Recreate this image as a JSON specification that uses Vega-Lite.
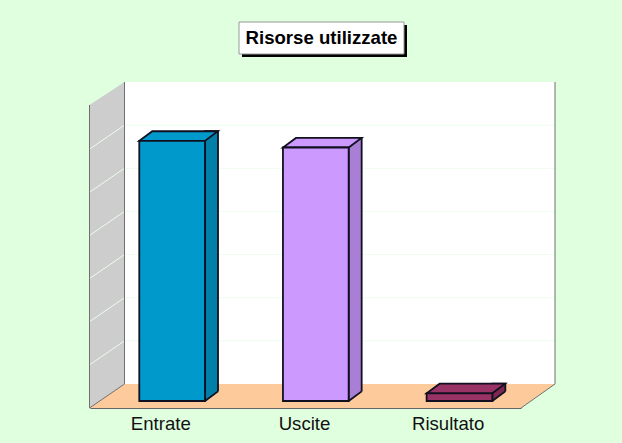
{"$schema":"https://vega.github.io/schema/vega-lite/v6.json","width":431,"height":326,"autosize":{"type":"none"},"padding":{"left":90,"top":82,"right":101,"bottom":35},"background":"#DFFFDF","view":{"stroke":null},"config":{"font":"Liberation Sans"},"datasets":{"barre":[{"categoria":"Entrate","valore":6.03},{"categoria":"Uscite","valore":5.876},{"categoria":"Risultato","valore":0.178}],"griglia":[{"categoria":"Entrate","valore":1},{"categoria":"Entrate","valore":2},{"categoria":"Entrate","valore":3},{"categoria":"Entrate","valore":4},{"categoria":"Entrate","valore":5},{"categoria":"Entrate","valore":6}],"sfondo":[{"categoria":"Entrate","valore":0,"titolo":"Risorse utilizzate"}]},"encoding":{"x":{"field":"categoria","type":"nominal","scale":{"domain":["Entrate","Uscite","Risultato"],"paddingInner":0,"paddingOuter":0},"axis":{"title":null,"ticks":false,"labelAngle":0,"labelFontSize":18.6,"labelColor":"#111111","labelFont":"Liberation Sans","labelPadding":6,"labelOffset":-1,"domainColor":"#666666","domainWidth":1,"grid":false,"zindex":1}},"y":{"field":"valore","type":"quantitative","scale":{"domain":[0,7.557],"nice":false,"zero":false},"axis":null}},"layer":[{"data":{"name":"sfondo"},"mark":{"type":"point","shape":"M-37.33,-326H393.17V-24H-37.33Z","size":4,"filled":true,"fill":"#FFFFFF","opacity":1,"strokeWidth":0}},{"data":{"name":"sfondo"},"mark":{"type":"point","shape":"M-72.33,-303L-37.33,-326V-24L-72.33,0Z","size":4,"filled":true,"fill":"#CDCDCD","opacity":1,"strokeWidth":0}},{"data":{"name":"sfondo"},"mark":{"type":"point","shape":"M-72.33,0L-37.33,-24H393.17L359.17,0Z","size":4,"filled":true,"fill":"#FDCB9B","opacity":1,"strokeWidth":0}},{"data":{"name":"griglia"},"mark":{"type":"point","shape":"M-72.33,0L-37.33,-24H393.17","size":4,"filled":false,"fill":null,"stroke":"#EDFDED","strokeWidth":1,"opacity":1}},{"data":{"name":"sfondo"},"mark":{"type":"point","shape":"M-72.33,0V-303M-37.33,-326V-24L-72.33,0M393.17,-326V-24L359.17,0","size":4,"filled":false,"fill":null,"stroke":"#707070","strokeWidth":1,"opacity":1}},{"data":{"name":"barre"},"mark":{"type":"bar","width":13,"xOffset":49.67,"yOffset":-16.6,"y2Offset":-7,"stroke":"#101020","strokeWidth":1.8},"encoding":{"fill":{"field":"categoria","type":"nominal","legend":null,"scale":{"domain":["Entrate","Uscite","Risultato"],"range":["#007FA8","#A87FD4","#7A2850"]}},"y2":{"datum":0}}},{"data":{"name":"barre"},"mark":{"type":"point","shape":"M43.17,-7L56.17,-16.6H58V-5.5H43.17Z","size":4,"filled":true,"fill":"#FDCB9B","opacity":1,"strokeWidth":0},"encoding":{"y":{"datum":0}}},{"data":{"name":"barre"},"mark":{"type":"point","shape":"M43.17,-7L56.17,-16.6","size":4,"filled":false,"fill":null,"stroke":"#101020","strokeWidth":1.8,"opacity":1},"encoding":{"y":{"datum":0}}},{"data":{"name":"barre"},"mark":{"type":"point","shape":"M-22.53,0H43.17L56,-9.6H-9.53Z","size":4,"filled":true,"yOffset":-7,"stroke":"#101020","strokeWidth":1.8,"opacity":1},"encoding":{"fill":{"field":"categoria","type":"nominal","legend":null,"scale":{"domain":["Entrate","Uscite","Risultato"],"range":["#0099CC","#CC99FF","#993366"]}}}},{"data":{"name":"barre"},"mark":{"type":"bar","width":65.7,"xOffset":10.3,"yOffset":-7,"y2Offset":-7,"stroke":"#101020","strokeWidth":1.8},"encoding":{"fill":{"field":"categoria","type":"nominal","legend":null,"scale":{"domain":["Entrate","Uscite","Risultato"],"range":["#0099CC","#CC99FF","#993366"]}},"y2":{"datum":0}}},{"data":{"name":"sfondo"},"mark":{"type":"point","shape":"M80.17,-383H245.17V-351H80.17Z","size":4,"filled":true,"fill":"#000000","opacity":1,"strokeWidth":0}},{"data":{"name":"sfondo"},"mark":{"type":"point","shape":"M77.17,-386H242.17V-354H77.17Z","size":4,"filled":true,"fill":"#FFFFFF","stroke":"#999999","strokeWidth":1,"opacity":1}},{"data":{"name":"sfondo"},"mark":{"type":"text","font":"Liberation Sans","fontSize":18.6,"fontWeight":"bold","color":"#000000","align":"center","baseline":"alphabetic","dx":159.67,"dy":-364},"encoding":{"text":{"field":"titolo","type":"nominal"}}}],"resolve":{"scale":{"fill":"independent"}}}
